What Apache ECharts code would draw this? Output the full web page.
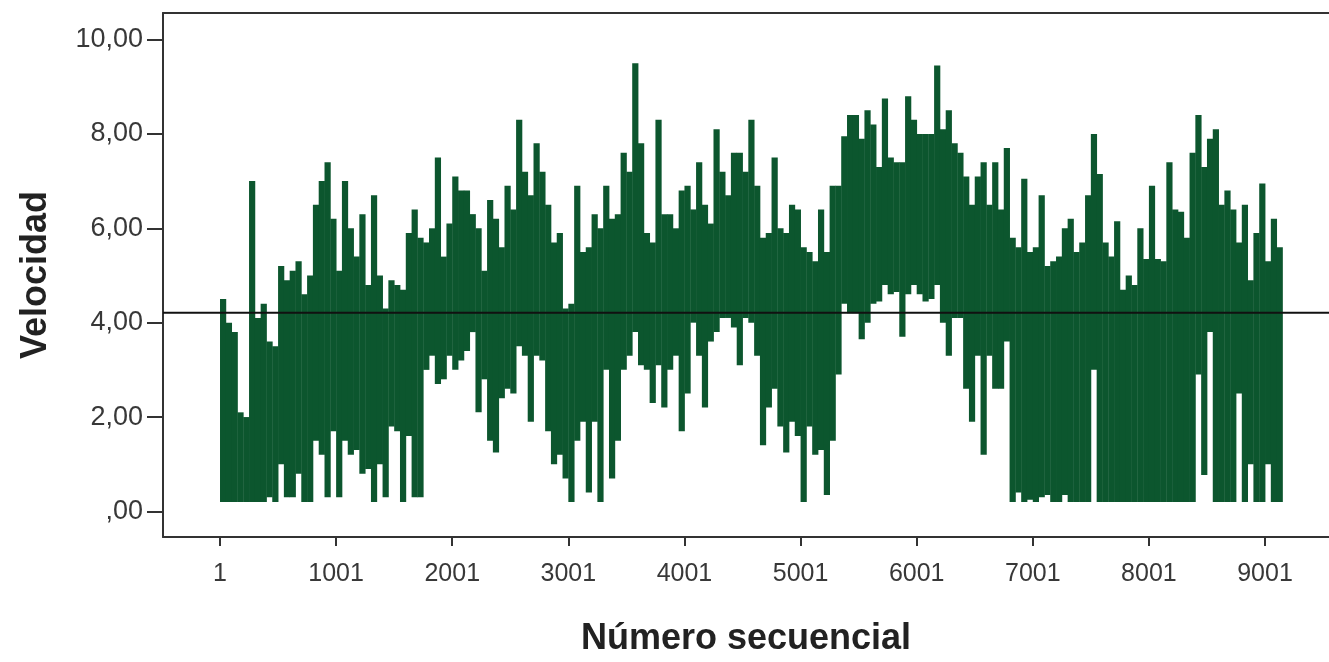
<!DOCTYPE html>
<html>
<head>
<meta charset="utf-8">
<script src="https://cdn.jsdelivr.net/npm/echarts@6/dist/echarts.min.js"></script>
<style>
html,body{margin:0;padding:0;background:#fff;}
#chart{width:1329px;height:662px;}
</style>
</head>
<body>
<div id="chart"></div>
<script>
// Tick labels / reference values
const xTicks = [1,1001,2001,3001,4001,5001,6001,7001,8001,9001];
const yTicks = [0,2,4,6,8,10];
const meanLine = 4.21;
const binSize = 50; // each bin covers 50 sequential cases

// Upper envelope (max velocity) per bin of 50 cases
const hiA = [4.5,4.0,3.8,2.1,2.0,7.0,4.1,4.4,3.6,3.5,5.2,4.9,5.1,5.3,4.6,5.0,6.5,7.0,7.4,6.2,5.1,7.0,6.0,5.4,6.3,4.8,6.7,5.0,4.3,4.9,4.8,4.7,5.9,6.4,5.8,5.7];
const hiB = [6.0,7.5,5.4,6.1,7.1,6.8,6.8,6.3,6.0,5.1,6.6,6.2,5.6,6.9,6.4,8.3,7.2,6.7,7.8,7.2,6.5,5.7,5.9,4.3,4.4,6.9,5.5,5.6,6.3,6.0,6.9,6.2,6.3,7.6,7.2,9.5];
const hiC = [7.8,5.9,5.7,8.3,6.3,6.3,6.0,6.8,6.9,6.4,7.4,6.5,6.1,8.1,7.2,6.7,7.6,7.6,7.2,8.3,6.9,5.8,5.9,7.5,6.0,5.9,6.5,6.4,5.6,5.5,5.3,6.4,5.5,6.9,6.9,7.95,8.4];
const hiD = [8.4,7.9,8.5,8.2,7.3,8.75,7.5,7.4,7.4,8.8,8.3,8.0,8.0,8.0,9.45,8.1,8.5,7.8,7.6,7.1,6.5,7.1,7.4,6.5,7.4,6.4,7.7,5.8,5.6,7.05,5.5,5.6,6.7,5.2,5.3,5.4,6.0];
const hiE = [6.2,5.5,5.7,6.7,8.0,7.15,5.7,5.4,6.15,4.7,5.0,4.8,6.0,5.35,6.9,5.35,5.3,7.4,6.4,6.35,5.8,7.6,8.4,7.3,7.9,8.1,6.5,6.8,6.4,5.7,6.5,4.9,5.9,6.95,5.3,6.2,5.6];

// Lower envelope (min velocity) per bin of 50 cases
const loA = [0.2,0.2,0.2,0.2,0.2,0.2,0.2,0.2,0.3,0.2,1.0,0.3,0.3,0.8,0.2,0.2,1.5,1.2,0.3,1.7,0.3,1.5,1.2,1.3,0.8,0.9,0.2,1.0,0.3,1.8,1.7,0.2,1.6,0.3,0.3,3.0];
const loB = [3.3,2.7,2.8,3.3,3.0,3.2,3.4,3.8,2.1,2.8,1.5,1.25,2.4,2.6,2.5,3.5,3.3,1.9,3.3,3.2,1.7,1.0,1.2,0.7,0.2,1.5,1.9,0.4,1.9,0.2,3.0,0.7,1.5,3.0,3.3,3.8];
const loC = [3.1,3.0,2.3,3.1,2.2,3.0,3.3,1.7,2.5,4.0,3.3,2.2,3.6,3.8,4.1,4.1,3.9,3.1,4.1,4.0,3.3,1.4,2.2,2.6,1.8,1.25,1.9,1.6,0.2,1.8,1.2,1.3,0.35,1.5,2.9,4.4,4.2];
const loD = [4.2,3.65,4.0,4.4,4.45,4.8,4.6,4.65,3.7,4.6,4.8,4.6,4.45,4.5,4.8,4.0,3.3,4.1,4.1,2.6,1.9,3.3,1.2,3.3,2.6,2.6,3.6,0.2,0.4,0.2,0.25,0.2,0.3,0.35,0.2,0.2,0.35];
const loE = [0.2,0.2,0.2,0.2,3.0,0.2,0.2,0.2,0.2,0.2,0.2,0.2,0.2,0.2,0.2,0.2,0.2,0.2,0.2,0.2,0.2,0.2,2.9,0.77,3.8,0.2,0.2,0.2,0.2,2.5,0.2,1.0,0.2,0.2,1.0,0.2,0.2];

const hi = hiA.concat(hiB, hiC, hiD, hiE);
const lo = loA.concat(loB, loC, loD, loE);

// One range per bin: [first case, last case, min, max]
const binData = [];
for (let i = 0; i < hi.length; i++) {
  binData.push([1 + i * binSize, 1 + (i + 1) * binSize, lo[i], hi[i]]);
}

const FONT = '"Liberation Sans", Arial, sans-serif';
const axisColor = '#333';
const green = '#0c562e';
const xMin = -490, xMax = 9552;
const yMin = -0.5417, yMax = 10.5625;

const chart = echarts.init(document.getElementById('chart'), null, {renderer: 'canvas'});
chart.setOption({
  animation: false,
  backgroundColor: '#fff',
  grid: {left: 163, right: 0, top: 13, bottom: 116, containLabel: false},
  xAxis: [{
    type: 'value', min: xMin, max: xMax,
    axisLine: {show: true, onZero: false, lineStyle: {color: axisColor, width: 2}},
    axisTick: {show: true, customValues: xTicks, length: 9, lineStyle: {color: axisColor, width: 2}},
    axisLabel: {customValues: xTicks, fontSize: 25, color: '#383838', margin: 25, fontFamily: FONT,
      formatter: function (v) { return String(Math.round(v)); }},
    splitLine: {show: false},
    name: 'Número secuencial', nameLocation: 'middle', nameGap: 84,
    nameTextStyle: {fontSize: 36, fontWeight: 'bold', color: '#222', fontFamily: FONT}
  }, {
    type: 'value', min: xMin, max: xMax, position: 'top',
    axisLine: {show: true, onZero: false, lineStyle: {color: axisColor, width: 2}},
    axisTick: {show: false}, axisLabel: {show: false}, splitLine: {show: false}
  }],
  yAxis: {
    type: 'value', min: yMin, max: yMax,
    axisLine: {show: true, onZero: false, lineStyle: {color: axisColor, width: 2}},
    axisTick: {show: true, customValues: yTicks, length: 16, lineStyle: {color: axisColor, width: 2}},
    axisLabel: {
      customValues: yTicks, fontSize: 27, color: '#383838', margin: 20, fontFamily: FONT,
      formatter: function (v) {
        let s = Number(v).toFixed(2).replace('.', ',');
        if (s.indexOf('0,') === 0) s = s.slice(1);
        return s;
      }
    },
    splitLine: {show: false},
    name: 'Velocidad', nameLocation: 'middle', nameGap: 109,
    nameTextStyle: {fontSize: 36, fontWeight: 'bold', color: '#222', fontFamily: FONT}
  },
  series: [{
    name: 'Velocidad',
    type: 'custom',
    xAxisIndex: 0,
    data: binData,
    encode: {x: [0, 1], y: [2, 3]},
    renderItem: function (params, api) {
      const pTop = api.coord([api.value(0), api.value(3)]);
      const pBot = api.coord([api.value(1), api.value(2)]);
      return {
        type: 'rect',
        shape: {x: pTop[0], y: pTop[1], width: pBot[0] - pTop[0] + 0.4, height: pBot[1] - pTop[1]},
        style: {fill: green, stroke: null}
      };
    },
    z: 2
  }, {
    name: 'Media',
    type: 'line',
    xAxisIndex: 0,
    data: [[xMin, meanLine], [xMax, meanLine]],
    showSymbol: false,
    lineStyle: {color: '#111', width: 2},
    z: 5,
    silent: true
  }]
});
</script>
</body>
</html>
